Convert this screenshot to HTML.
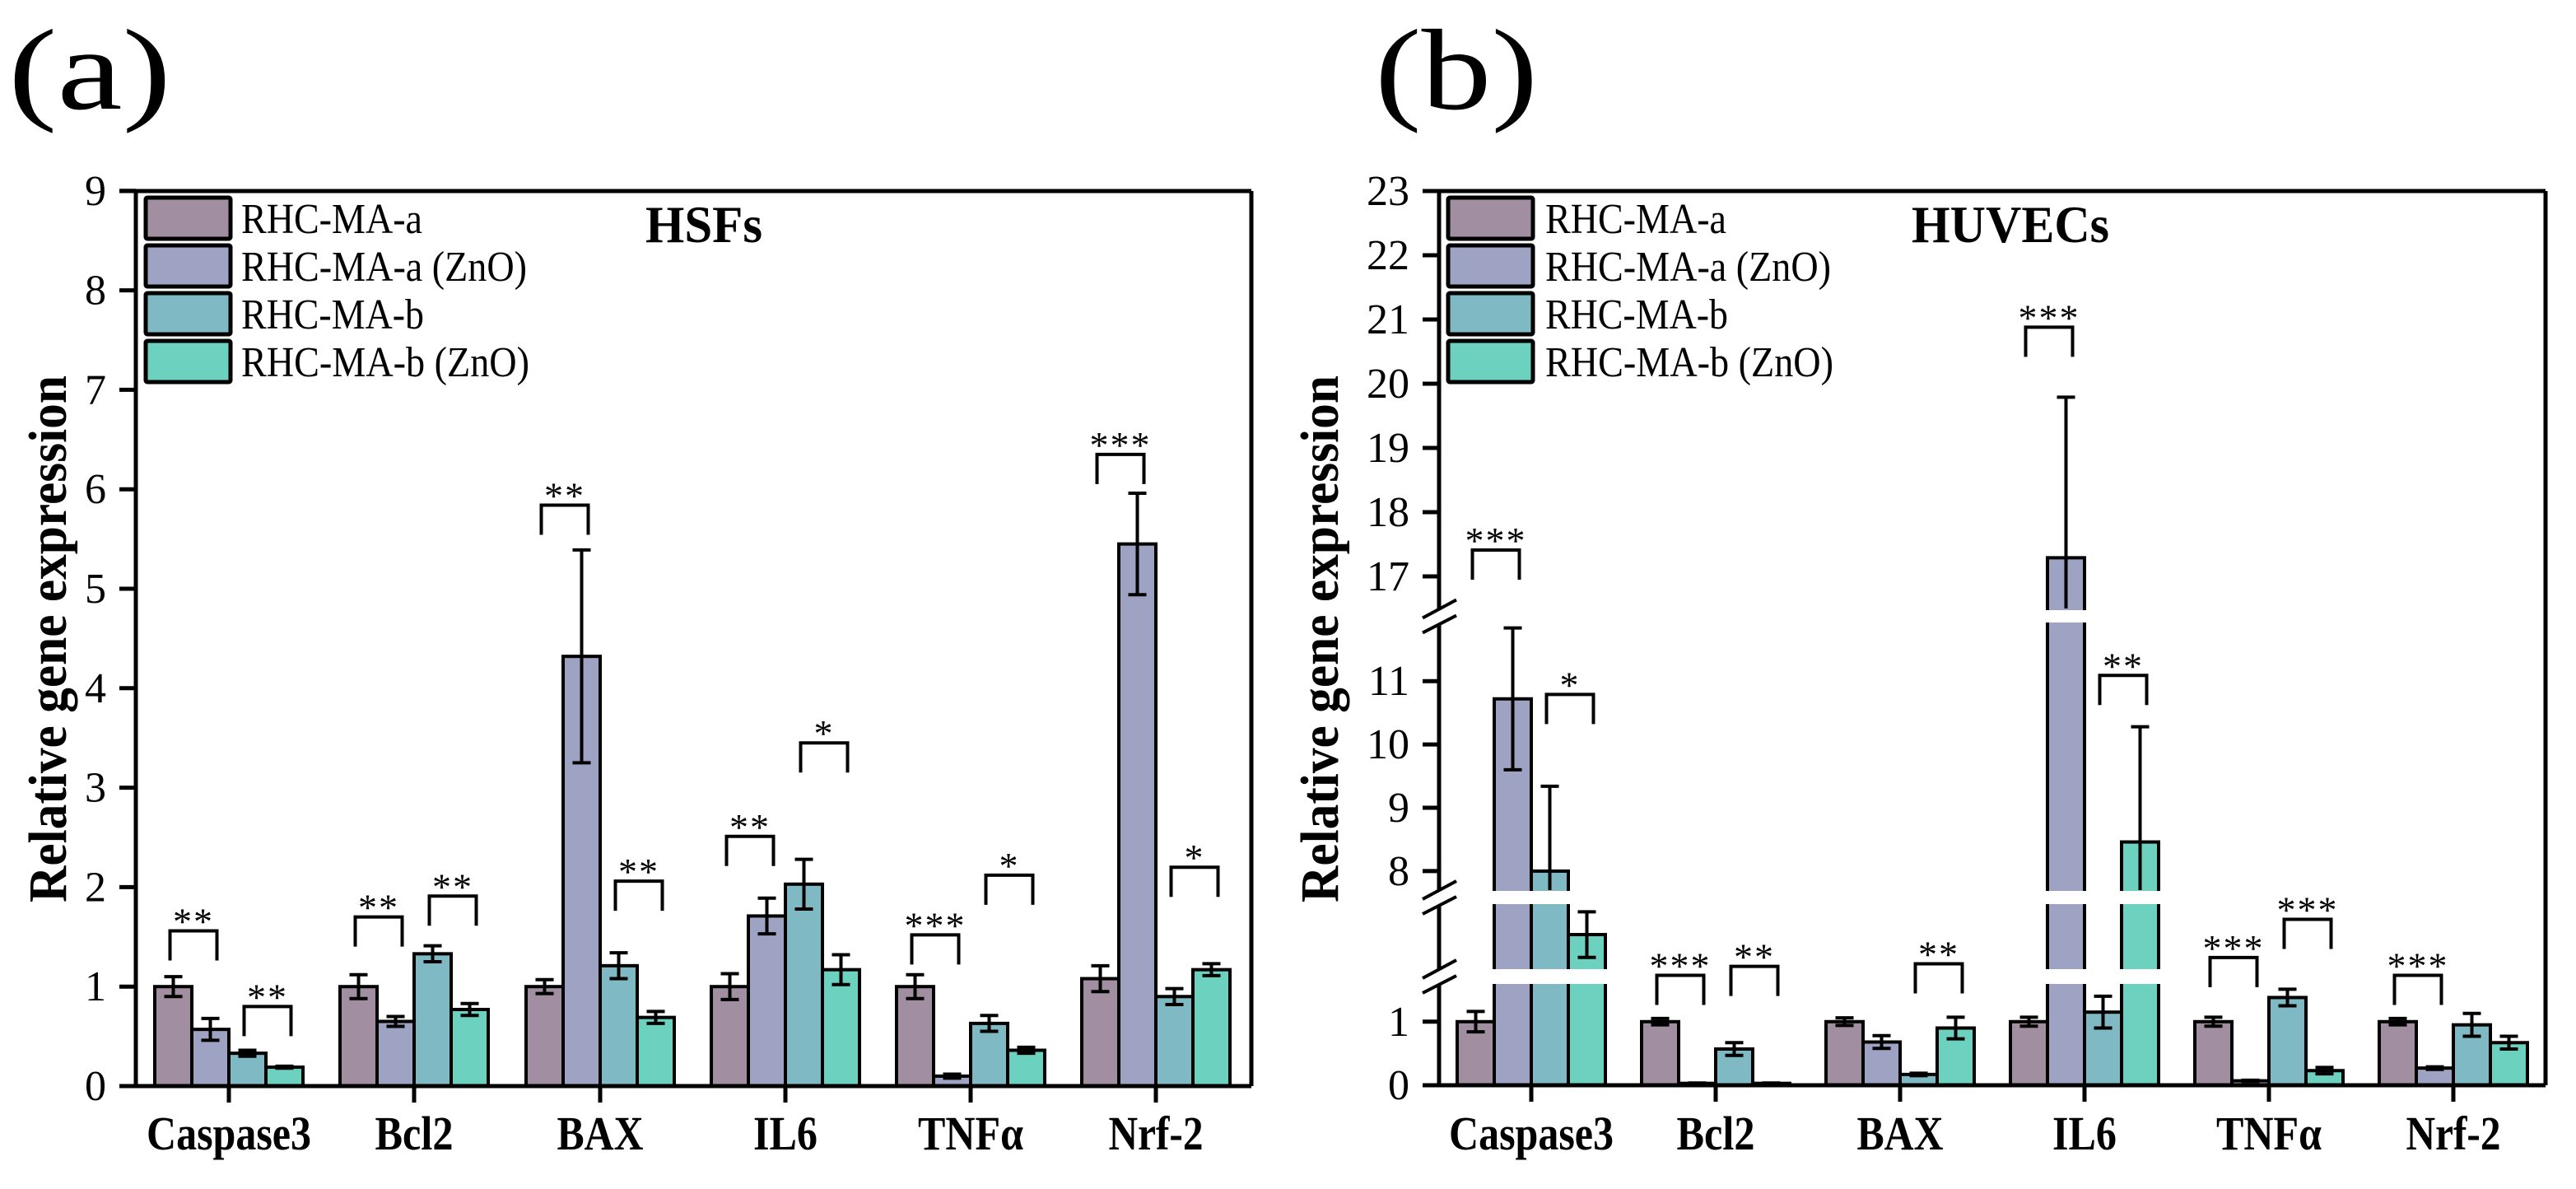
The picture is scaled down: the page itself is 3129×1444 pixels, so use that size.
<!DOCTYPE html>
<html><head><meta charset="utf-8"><style>
html,body{margin:0;padding:0;background:#fff;}
svg, svg text{font-family:"Liberation Serif","Times New Roman",serif;}
</style></head><body>
<svg id="chart" width="3129" height="1439" viewBox="0 0 3129 1439" xmlns="http://www.w3.org/2000/svg">
<rect width="3129" height="1439" fill="#fff"/>
<text x="10" y="132" font-size="140" textLength="198" lengthAdjust="spacingAndGlyphs" font-family="Liberation Serif, serif">(a)</text>
<text x="1670" y="132" font-size="140" textLength="198" lengthAdjust="spacingAndGlyphs" font-family="Liberation Serif, serif">(b)</text>
<g id="pa"></g>
<g id="pb"></g>
</svg>
<script>
const categories = ["Caspase3","Bcl2","BAX","IL6","TNFα","Nrf-2"];
const seriesNames = ["RHC-MA-a","RHC-MA-a (ZnO)","RHC-MA-b","RHC-MA-b (ZnO)"];
const colors = ["#a18fa1","#9ea2c3","#7fbac4","#6dd1c0"];
// Panel A (HSFs)
const aMA = [1.0,1.0,1.0,1.0,1.0,1.08];
const aMAZnO = [0.57,0.65,4.32,1.71,0.10,5.45];
const aMB = [0.33,1.33,1.21,2.03,0.63,0.90];
const aMBZnO = [0.19,0.77,0.69,1.17,0.36,1.17];
const aErrMA = [0.10,0.12,0.07,0.13,0.12,0.13];
const aErrMAZnO = [0.11,0.05,1.07,0.18,0.02,0.51];
const aErrMB = [0.03,0.08,0.13,0.25,0.08,0.08];
const aErrMBZnO = [0.01,0.06,0.06,0.15,0.03,0.06];
const aSig1 = ["**","**","**","**","***","***"];
const aSig1Y = [1.56,1.70,5.84,2.51,1.52,6.35];
const aSig2 = ["**","**","**","*","*","*"];
const aSig2Y = [0.80,1.91,2.06,3.45,2.12,2.20];
const aTicks = [0,1,2,3,4,5,6,7,8,9];
// Panel B (HUVECs)
const bMA = [1.0,1.0,1.0,1.0,1.0,1.0];
const bMAZnO = [10.72,0.03,0.68,17.29,0.07,0.27];
const bMB = [8.0,0.57,0.17,1.15,1.38,0.95];
const bMBZnO = [4.66,0.03,0.90,8.46,0.23,0.67];
const bErrMA = [0.16,0.05,0.06,0.07,0.07,0.05];
const bErrMAZnO = [1.12,0.005,0.10,2.50,0.01,0.02];
const bErrMB = [1.34,0.10,0.02,0.25,0.13,0.18];
const bErrMBZnO = [1.80,0.005,0.17,1.82,0.05,0.10];
const bSig1 = ["***","***","","***","***","***"];
const bSig1Y = [17.41,1.73,0,20.88,2.01,1.73];
const bSig2 = ["*","**","**","**","***",""];
const bSig2Y = [10.79,1.87,1.91,11.09,2.61,0];
const bTicks = [0,1,8,9,10,11,17,18,19,20,21,22,23];

const NS="http://www.w3.org/2000/svg";
function mk(parent,tag,attrs){const e=document.createElementNS(NS,tag);if(tag==='text')e.setAttribute('font-family','Liberation Serif, serif');for(const k in attrs)e.setAttribute(k,attrs[k]);parent.appendChild(e);return e;}

function drawPanel(g,cfg){
  const {left,right,top,y0,ymap,segOf,vals,errs,sig1,sig1Y,sig2,sig2Y,ticks,title,titleX,xCenters,legendX,legendTextX,bracketY,yTitleX}=cfg;
  const bw=45;
  for(let c=0;c<categories.length;c++){
    for(let s=0;s<4;s++){
      const v=vals[s][c];
      const x=xCenters[c]-2*bw+s*bw;
      const yt=ymap(v);
      const r=mk(g,'rect',{x:x,y:yt,width:bw,height:y0-yt,fill:colors[s],stroke:'#000','stroke-width':4});
      
      
    }
  }
  if(cfg.gaps){
    for(let c=0;c<categories.length;c++){
      for(let s=0;s<4;s++){
        const v=vals[s][c];const yt=ymap(v);
        const x=xCenters[c]-2*bw+s*bw;
        cfg.gaps.forEach(gp=>{ if(yt<gp[0]){
          const r=mk(g,'rect',{x:x-3,y:gp[0],width:bw+6,height:gp[1]-gp[0],fill:'#fff'});
          
          
        }});
      }
    }
  }
  for(let c=0;c<categories.length;c++){
    for(let s=0;s<4;s++){
      const v=vals[s][c],e=errs[s][c];
      const cx=xCenters[c]-2*bw+s*bw+bw/2;
      const seg=segOf(v);
      let hi=v+e,lo=v-e,loCap=true;
      if(lo<seg[0]){lo=seg[0];loCap=false;}
      const y1=ymap(hi),y2=ymap(lo);
      const eg=mk(g,'g',{stroke:'#000','stroke-width':4});
      
      
      mk(eg,'line',{x1:cx,y1:y1,x2:cx,y2:y2});
      mk(eg,'line',{x1:cx-11,y1:y1,x2:cx+11,y2:y1});
      if(loCap) mk(eg,'line',{x1:cx-11,y1:y2,x2:cx+11,y2:y2});
    }
  }
  function bracket(c,p,txt,yv){
    if(!txt) return;
    const xa=xCenters[c]-2*bw+p*bw+bw/2-4;
    const xb=xCenters[c]-2*bw+(p+1)*bw+bw/2+8;
    const yt=bracketY(yv);
    const bg=mk(g,'g',{});
    
    
    mk(bg,'path',{d:`M${xa},${yt+36} V${yt} H${xb} V${yt+36}`,fill:'none',stroke:'#000','stroke-width':4});
    const t=mk(bg,'text',{x:(xa+xb)/2,y:yt+4,'text-anchor':'middle','font-size':46,'letter-spacing':2});
    t.textContent=txt;
  }
  for(let c=0;c<categories.length;c++){bracket(c,0,sig1[c],sig1Y[c]);bracket(c,2,sig2[c],sig2Y[c]);}
  const ax=mk(g,'g',{stroke:'#000','stroke-width':5,fill:'none'});
  
  
  mk(ax,'line',{x1:left-20,y1:top,x2:right,y2:top});
  mk(ax,'line',{x1:right,y1:top,x2:right,y2:y0});
  mk(ax,'line',{x1:left-20,y1:y0,x2:right,y2:y0});
  mk(ax,'line',{x1:left,y1:top,x2:left,y2:y0});
  if(cfg.gaps){
    cfg.gaps.forEach(gp=>{
      const c=(gp[0]+gp[1])/2;
      const br=mk(g,'g',{});
      
      
      mk(br,'rect',{x:left-4,y:c-8,width:8,height:18,fill:'#fff'});
      mk(br,'line',{x1:left-20,y1:c+2,x2:left+21,y2:c-20,stroke:'#000','stroke-width':4});
      mk(br,'line',{x1:left-20,y1:c+20,x2:left+21,y2:c-1,stroke:'#000','stroke-width':4});
    });
  }
  ticks.forEach(tv=>{
    const y=ymap(tv);
    mk(g,'line',{x1:left-20,y1:y,x2:left,y2:y,stroke:'#000','stroke-width':5});
    const t=mk(g,'text',{x:left-36,y:y+17,'text-anchor':'end','font-size':52});
    
    
    t.textContent=tv;
  });
  const xw=[200,95,105,78,128,115];
  categories.forEach((cn,c)=>{
    mk(g,'line',{x1:xCenters[c],y1:y0,x2:xCenters[c],y2:y0+20,stroke:'#000','stroke-width':5});
    const t=mk(g,'text',{x:xCenters[c],y:1396,'text-anchor':'middle','font-size':58,'font-weight':'bold',textLength:xw[c],lengthAdjust:'spacingAndGlyphs'});
    
    
    t.textContent=cn;
  });
  const yt=mk(g,'text',{x:0,y:0,transform:`translate(${yTitleX},776) rotate(-90)`,'text-anchor':'middle','font-size':66,'font-weight':'bold',textLength:640,lengthAdjust:'spacingAndGlyphs'});
  
  
  yt.textContent='Relative gene expression';
  const tt=mk(g,'text',{x:titleX,y:294,'text-anchor':'middle','font-size':64,'font-weight':'bold',textLength:cfg.titleW,lengthAdjust:'spacingAndGlyphs'});
  
  
  tt.textContent=title;
  const lw=[220,347,222,350];
  seriesNames.forEach((n,s)=>{
    const ly=240+s*58;
    const lg=mk(g,'g',{});
    
    
    mk(lg,'rect',{x:legendX,y:ly,width:103,height:50,fill:colors[s],stroke:'#000','stroke-width':5,rx:2});
    const t=mk(lg,'text',{x:legendTextX,y:ly+43,'font-size':52,textLength:lw[s],lengthAdjust:'spacingAndGlyphs'});
    t.textContent=n;
  });
}

const ya=v=>1319-v*120.8;
drawPanel(document.getElementById('pa'),{
  left:165,right:1520,top:232,y0:1319,ymap:ya,segOf:()=>[-1,100],
  vals:[aMA,aMAZnO,aMB,aMBZnO],errs:[aErrMA,aErrMAZnO,aErrMB,aErrMBZnO],
  sig1:aSig1,sig1Y:aSig1Y,sig2:aSig2,sig2Y:aSig2Y,ticks:aTicks,title:'HSFs',titleX:855,titleW:142,
  xCenters:[278,503,729,954,1179,1404],legendX:177,legendTextX:293,bracketY:ya,yTitleX:80
});
const segs=[[0,1.58,1318,1196],[2,7,1176,1099],[7.7,11.9,1081,758],[16.5,23,739,232]];
function segB(v){for(const s of segs){if(v<=s[1]+1e-9)return s;}return segs[segs.length-1];}
function yb(v){const s=segB(v);const vv=Math.max(v,s[0]);return s[2]+(vv-s[0])/(s[1]-s[0])*(s[3]-s[2]);}
function byb(v){ if(v>7.5) return yb(v); return 1318-v*77.2; }
drawPanel(document.getElementById('pb'),{
  left:1748,right:3092,top:232,y0:1318,ymap:yb,segOf:segB,
  vals:[bMA,bMAZnO,bMB,bMBZnO],errs:[bErrMA,bErrMAZnO,bErrMB,bErrMBZnO],
  sig1:bSig1,sig1Y:bSig1Y,sig2:bSig2,sig2Y:bSig2Y,ticks:bTicks,title:'HUVECs',titleX:2442,titleW:240,
  xCenters:[1860,2084,2308,2532,2756,2980],legendX:1759,legendTextX:1877,bracketY:byb,yTitleX:1625,
  gaps:[[741,756],[1082,1098],[1177,1195]]
});
</script>
</body></html>
